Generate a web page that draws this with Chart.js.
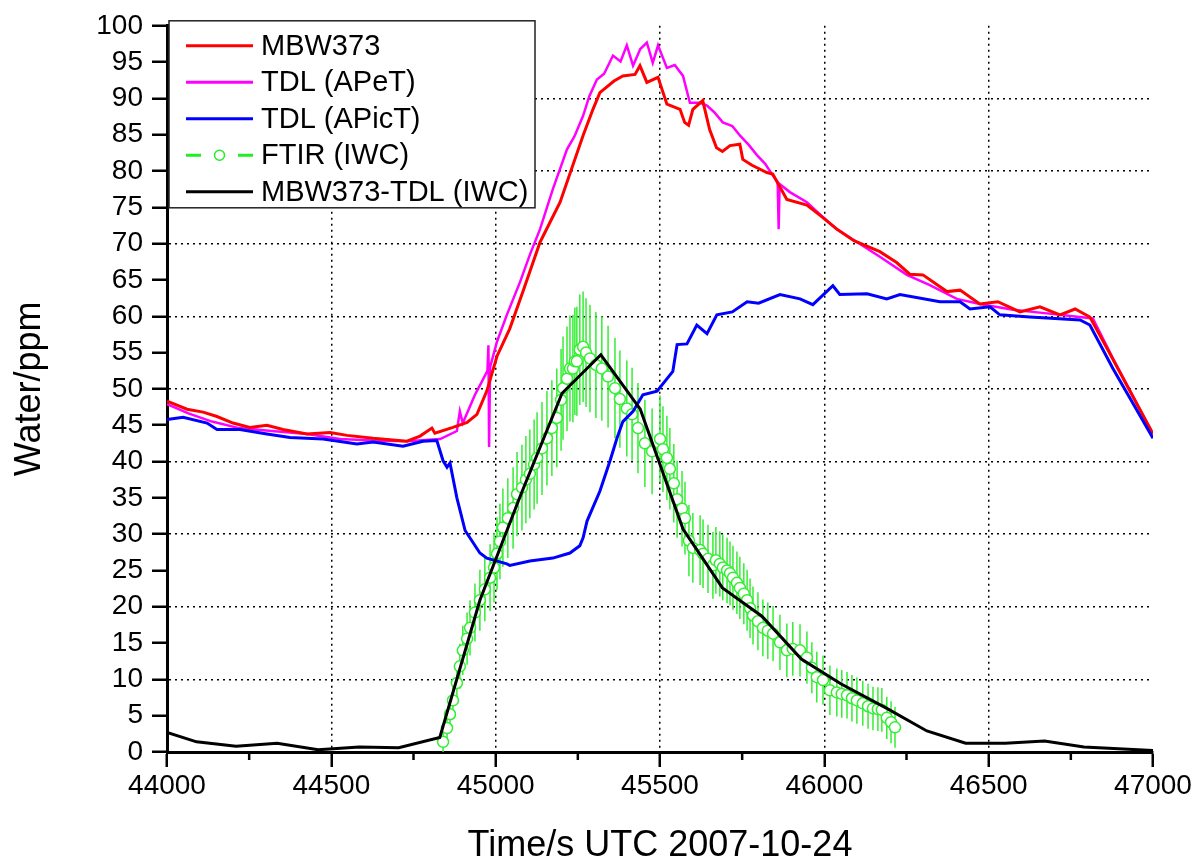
<!DOCTYPE html>
<html>
<head>
<meta charset="utf-8">
<script src="https://cdn.jsdelivr.net/npm/chart.js@4.4.1/dist/chart.umd.min.js"></script>
<style>
  html, body { margin: 0; padding: 0; background: #fff; }
  #wrap { width: 1195px; height: 860px; }
</style>
</head>
<body>
<div id="wrap"><canvas id="waterChart" width="1195" height="860"></canvas></div>
<script>
// MBW373 frost point hygrometer
const redTime = [44000, 44061, 44110, 44152, 44201, 44252, 44304, 44353, 44426, 44496, 44548, 44627, 44730, 44770, 44806, 44815, 44870, 44913, 44943, 44973,
  45004, 45043, 45083, 45135, 45196, 45266, 45296, 45317, 45360, 45387, 45424, 45439, 45460, 45494, 45521, 45561, 45575, 45587, 45600, 45630,
  45651, 45672, 45690, 45713, 45743, 45752, 45780, 45825, 45843, 45886, 45947, 45990, 46038, 46090, 46169, 46220, 46260, 46300, 46373, 46413,
  46473, 46528, 46595, 46656, 46717, 46763, 46808, 46860, 47000];
const redValue = [48.3, 47.2, 46.8, 46.2, 45.3, 44.7, 45.0, 44.4, 43.8, 44.0, 43.6, 43.2, 42.8, 43.5, 44.6, 43.9, 44.7, 45.4, 46.5, 49.7,
  54.5, 58.3, 63.4, 70.2, 75.7, 84.9, 88.5, 90.8, 92.4, 93.1, 93.3, 94.5, 92.2, 92.9, 89.2, 88.5, 86.7, 86.3, 88.5, 89.7,
  85.7, 83.2, 82.7, 83.5, 83.7, 81.6, 80.8, 79.8, 79.6, 76.1, 75.3, 73.8, 72.0, 70.4, 68.9, 67.4, 65.8, 65.7, 63.4, 63.6,
  61.7, 62.0, 60.6, 61.3, 60.2, 61.0, 59.9, 55.6, 43.8];

// TDL (APeT)
const apetTime = [44000, 44067, 44137, 44219, 44319, 44426, 44527, 44627, 44730, 44831, 44882, 44891, 44900, 44937, 44958, 44975, 44978, 44980, 44983, 45004,
  45034, 45074, 45105, 45135, 45174, 45217, 45240, 45266, 45285, 45308, 45330, 45357, 45380, 45399, 45418, 45440, 45460, 45478, 45494, 45521,
  45545, 45570, 45591, 45622, 45643, 45665, 45691, 45720, 45743, 45770, 45795, 45820, 45843, 45858, 45861, 45864, 45895, 45947, 45990, 46038,
  46100, 46169, 46251, 46321, 46403, 46473, 46574, 46677, 46777, 46817, 46878, 47000];
const apetValue = [47.9, 46.6, 45.5, 44.6, 44.2, 43.8, 43.1, 42.9, 42.8, 43.1, 44.2, 46.9, 45.3, 49.2, 51.0, 52.5, 56.0, 42.0, 53.0, 56.5,
  60.2, 64.7, 68.6, 72.0, 77.5, 83.0, 84.8, 87.6, 90.3, 92.6, 93.4, 95.9, 95.1, 97.3, 94.5, 96.8, 97.7, 94.9, 97.3, 94.2,
  94.6, 93.1, 89.4, 89.4, 89.0, 88.1, 86.7, 86.2, 84.9, 83.6, 82.2, 81.0, 79.4, 78.5, 72.0, 78.2, 77.1, 75.7, 73.9, 72.0,
  70.2, 68.2, 65.7, 64.3, 62.4, 61.7, 60.9, 60.4, 59.9, 59.7, 54.2, 43.8];

// TDL (APicT)
const apictTime = [44000, 44049, 44122, 44152, 44222, 44304, 44374, 44475, 44578, 44627, 44718, 44779, 44821, 44840, 44852, 44861, 44882, 44907, 44952, 44973,
  45034, 45043, 45104, 45174, 45226, 45256, 45266, 45278, 45317, 45348, 45369, 45387, 45418, 45448, 45491, 45539, 45552, 45582, 45612, 45643,
  45673, 45720, 45765, 45800, 45865, 45926, 45965, 46026, 46047, 46130, 46190, 46230, 46352, 46413, 46443, 46504, 46534, 46625, 46778, 46808,
  46878, 47000];
const apictValue = [45.8, 46.1, 45.3, 44.4, 44.4, 43.8, 43.3, 43.1, 42.4, 42.7, 42.1, 42.8, 42.9, 40.1, 39.2, 39.8, 35.0, 30.5, 27.4, 26.7,
  25.9, 25.7, 26.3, 26.7, 27.4, 28.4, 29.5, 31.8, 35.9, 40.1, 43.2, 45.5, 46.9, 49.2, 49.7, 52.4, 56.1, 56.2, 58.8, 57.6,
  60.2, 60.6, 62.0, 61.8, 63.0, 62.4, 61.6, 64.2, 63.0, 63.1, 62.4, 63.0, 62.0, 62.0, 61.0, 61.3, 60.2, 59.9, 59.5, 58.8,
  52.8, 43.2];

// FTIR (IWC) with error bars
const ftirTime = [44840, 44852, 44861, 44870, 44882, 44891, 44900, 44913, 44922, 44937, 44952, 44967, 44983, 44995, 45004, 45013, 45022, 45037, 45053, 45065,
  45080, 45092, 45104, 45117, 45126, 45141, 45156, 45171, 45186, 45199, 45205, 45217, 45226, 45235, 45241, 45247, 45256, 45266, 45275, 45287,
  45305, 45323, 45342, 45363, 45378, 45399, 45415, 45433, 45454, 45476, 45500, 45509, 45521, 45530, 45542, 45552, 45567, 45576, 45588, 45600,
  45622, 45631, 45646, 45661, 45670, 45682, 45691, 45704, 45713, 45722, 45734, 45743, 45755, 45765, 45774, 45783, 45798, 45813, 45828, 45844,
  45865, 45886, 45904, 45926, 45947, 45962, 45977, 45996, 46017, 46038, 46053, 46069, 46084, 46099, 46117, 46133, 46148, 46163, 46175, 46190,
  46203, 46215];
const ftirValue = [1.4, 3.3, 5.2, 7.1, 9.5, 11.8, 14.0, 15.6, 17.1, 19.2, 20.9, 22.4, 24.0, 25.4, 27.3, 29.0, 30.9, 32.2, 33.6, 35.5,
  36.4, 37.5, 38.3, 39.6, 40.5, 41.8, 43.2, 44.6, 46.0, 48.5, 50.1, 51.4, 52.8, 52.8, 53.8, 53.8, 55.4, 55.8, 55.0, 54.2,
  53.3, 52.8, 51.7, 50.1, 48.6, 47.3, 46.5, 44.6, 42.5, 41.4, 43.1, 41.7, 40.5, 39.0, 37.0, 34.8, 33.5, 32.2, 29.1, 28.1,
  27.8, 27.3, 26.6, 25.7, 26.4, 25.9, 25.4, 25.0, 24.6, 24.0, 23.3, 22.6, 21.8, 20.9, 19.8, 18.8, 18.0, 17.1, 16.7, 16.3,
  15.1, 14.0, 14.2, 14.0, 13.0, 11.6, 10.3, 9.9, 8.5, 8.2, 8.0, 7.8, 7.4, 7.1, 6.7, 6.3, 6.0, 5.9, 5.8, 4.7,
  4.1, 3.4];
const ftirError = [2.0, 2.2, 2.4, 2.6, 2.9, 3.1, 3.4, 3.6, 3.8, 4.0, 4.2, 4.4, 4.6, 4.8, 5.0, 5.2, 5.4, 5.5, 5.6, 5.8,
  5.9, 6.0, 6.1, 6.2, 6.3, 6.4, 6.5, 6.6, 6.8, 7.0, 7.1, 7.2, 7.3, 7.4, 7.4, 7.5, 7.6, 7.6, 7.5, 7.4,
  7.3, 7.2, 7.0, 6.9, 6.7, 6.6, 6.4, 6.2, 6.0, 5.9, 6.0, 5.9, 5.8, 5.6, 5.4, 5.3, 5.2, 5.0, 4.9, 4.8,
  4.8, 4.7, 4.7, 4.6, 4.6, 4.5, 4.5, 4.5, 4.4, 4.4, 4.3, 4.3, 4.2, 4.2, 4.1, 4.0, 4.0, 3.9, 3.9, 3.8,
  3.8, 3.7, 3.7, 3.6, 3.6, 3.5, 3.5, 3.4, 3.4, 3.3, 3.3, 3.2, 3.2, 3.2, 3.1, 3.1, 3.0, 3.0, 3.0, 2.9,
  2.9, 2.8];

// MBW373-TDL (IWC)
const diffTime = [44000, 44090, 44210, 44335, 44460, 44585, 44705, 44830, 44952, 45077, 45202, 45320, 45440, 45570, 45690, 45810, 45930, 46050, 46190, 46312,
  46430, 46550, 46670, 46790, 46910, 47000];
const diffValue = [2.7, 1.4, 0.8, 1.2, 0.3, 0.7, 0.6, 2.0, 20.9, 35.5, 49.4, 54.7, 47.2, 30.7, 22.6, 18.7, 12.8, 9.4, 6.0, 2.9,
  1.2, 1.2, 1.5, 0.7, 0.4, 0.2];

const yTicks = [0, 5, 10, 15, 20, 25, 30, 35, 40, 45, 50, 55, 60, 65, 70, 75, 80, 85, 90, 95, 100];
const xTicks = [44000, 44500, 45000, 45500, 46000, 46500, 47000];
const xMinorTicks = [44250, 44750, 45250, 45750, 46250, 46750];

const FONT = '"Liberation Sans", Arial, sans-serif';
const pts = (ts, vs) => ts.map((t, i) => ({ x: t, y: vs[i] }));

const errorBars = {
  id: 'errorBars',
  beforeDatasetDraw(chart, args) {
    const ds = chart.data.datasets[args.index];
    if (!ds.errors) return;
    const { ctx, chartArea, scales } = chart;
    ctx.save();
    ctx.beginPath();
    ctx.rect(chartArea.left, chartArea.top, chartArea.width, chartArea.height);
    ctx.clip();
    ctx.strokeStyle = '#33ee33';
    ctx.lineWidth = 1.5;
    ds.data.forEach((p, i) => {
      const px = scales.x.getPixelForValue(p.x);
      ctx.beginPath();
      ctx.moveTo(px, scales.y.getPixelForValue(p.y - ds.errors[i]));
      ctx.lineTo(px, scales.y.getPixelForValue(p.y + ds.errors[i]));
      ctx.stroke();
    });
    ctx.restore();
  }
};

const extras = {
  id: 'extras',
  afterDraw(chart) {
    const { ctx, chartArea, scales } = chart;
    // minor ticks on x
    ctx.save();
    ctx.strokeStyle = '#000';
    ctx.lineWidth = 2.5;
    xMinorTicks.forEach(t => {
      const px = scales.x.getPixelForValue(t);
      ctx.beginPath();
      ctx.moveTo(px, chartArea.bottom);
      ctx.lineTo(px, chartArea.bottom + 8);
      ctx.stroke();
    });
    // legend box
    const bx = chartArea.left + 2, by = chartArea.top - 5, bw = 366, bh = 187;
    ctx.fillStyle = '#fff';
    ctx.fillRect(bx, by, bw, bh);
    ctx.lineWidth = 1.5;
    ctx.strokeStyle = '#222';
    ctx.strokeRect(bx, by, bw, bh);
    ctx.font = '29px ' + FONT;
    ctx.textBaseline = 'middle';
    chart.data.datasets.forEach((ds, i) => {
      const y = by + 25 + i * 36.5;
      const x0 = bx + 17, x1 = bx + 84;
      ctx.strokeStyle = ds.legendColor;
      ctx.lineWidth = 3;
      if (ds.errors) {
        ctx.beginPath();
        ctx.moveTo(x0, y); ctx.lineTo(x0 + 15, y);
        ctx.moveTo(x1 - 15, y); ctx.lineTo(x1, y);
        ctx.stroke();
        ctx.lineWidth = 1.5;
        ctx.fillStyle = '#fff';
        ctx.beginPath();
        ctx.arc((x0 + x1) / 2, y, 5, 0, Math.PI * 2);
        ctx.fill(); ctx.stroke();
      } else {
        ctx.beginPath();
        ctx.moveTo(x0, y); ctx.lineTo(x1, y);
        ctx.stroke();
      }
      ctx.fillStyle = '#000';
      ctx.fillText(ds.label, bx + 92, y + 1);
    });
    ctx.restore();
  }
};

new Chart(document.getElementById('waterChart'), {
  type: 'line',
  data: {
    datasets: [
      { label: 'MBW373', data: pts(redTime, redValue), borderColor: '#ff0000', legendColor: '#ff0000', borderWidth: 3, order: 3 },
      { label: 'TDL (APeT)', data: pts(apetTime, apetValue), borderColor: '#ff00ff', legendColor: '#ff00ff', borderWidth: 2.5, order: 4 },
      { label: 'TDL (APicT)', data: pts(apictTime, apictValue), borderColor: '#0000ff', legendColor: '#0000ff', borderWidth: 3, order: 1 },
      { label: 'FTIR (IWC)', data: pts(ftirTime, ftirValue), errors: ftirError, legendColor: '#22ee22', showLine: false,
        pointRadius: 5.5, pointBorderWidth: 1.5, pointBorderColor: '#33ee33', pointBackgroundColor: '#ffffff', order: 2 },
      { label: 'MBW373-TDL (IWC)', data: pts(diffTime, diffValue), borderColor: '#000000', legendColor: '#000000', borderWidth: 3, order: 0 }
    ]
  },
  options: {
    responsive: false,
    animation: false,
    devicePixelRatio: 1,
    layout: { padding: { top: 23, right: 42, left: 0, bottom: 0 } },
    elements: { point: { radius: 0 }, line: { tension: 0 } },
    plugins: { legend: { display: false }, tooltip: { enabled: false } },
    scales: {
      x: {
        type: 'linear', min: 44000, max: 47000,
        afterFit(s) { s.height = 108; },
        afterBuildTicks(s) { s.ticks = xTicks.map(v => ({ value: v })); },
        ticks: { color: '#000', font: { family: FONT, size: 28 }, padding: 2, maxRotation: 0, autoSkip: false,
          callback: v => String(v) },
        grid: {
          color: c => (c.tick && c.tick.value > 44000 && c.tick.value < 47000) ? '#000' : 'rgba(0,0,0,0)',
          lineWidth: 1.5, tickColor: '#000', tickWidth: 2.5, tickLength: 15
        },
        border: { display: true, color: '#000', width: 3, dash: [2, 4] },
        title: { display: true, text: 'Time/s UTC 2007-10-24', color: '#000',
          font: { family: FONT, size: 36, lineHeight: 0.8 }, padding: { top: 0, bottom: 0 } }
      },
      y: {
        min: 0, max: 100,
        afterFit(s) { s.width = 167; },
        afterBuildTicks(s) { s.ticks = yTicks.map(v => ({ value: v })); },
        ticks: { color: '#000', font: { family: FONT, size: 28 }, padding: 9, autoSkip: false,
          callback: v => String(v) },
        grid: {
          color: c => (c.tick && c.tick.value % 10 === 0 && c.tick.value > 0 && c.tick.value < 100) ? '#000' : 'rgba(0,0,0,0)',
          lineWidth: 1.5, tickColor: '#000', tickWidth: 2.5, tickLength: 15
        },
        border: { display: true, color: '#000', width: 3, dash: [2, 4] },
        title: { display: true, text: 'Water/ppm', color: '#000',
          font: { family: FONT, size: 36, lineHeight: 1 }, padding: { top: 12, bottom: 0 } }
      }
    }
  },
  plugins: [errorBars, extras]
});
</script>
</body>
</html>
